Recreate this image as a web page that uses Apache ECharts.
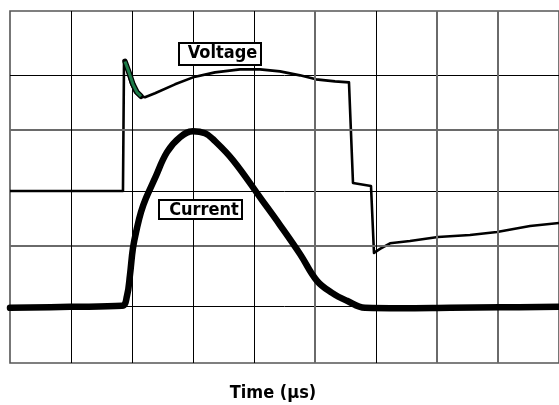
<!DOCTYPE html>
<html><head><meta charset="utf-8">
<script src="https://cdn.jsdelivr.net/npm/echarts@6/dist/echarts.min.js"></script>
<style>html,body{margin:0;padding:0;background:#fff}#c{width:559px;height:405px}</style>
</head><body><div id="c"></div>
<script>
// Time in grid divisions, amplitude in grid divisions
var currentT = [0, 0.984, 1.836, 1.918, 1.967, 2.016, 2.082, 2.148, 2.230, 2.377, 2.574, 2.787, 3.0, 3.197, 3.328, 3.656, 4.131, 4.426, 4.754, 5.033, 5.279, 5.525, 5.820, 6.393, 7.213, 8.033, 9.0];
var currentV = [0.94, 0.957, 0.974, 1.145, 1.502, 1.961, 2.301, 2.573, 2.811, 3.151, 3.594, 3.849, 3.951, 3.917, 3.815, 3.457, 2.777, 2.352, 1.859, 1.400, 1.196, 1.060, 0.940, 0.932, 0.940, 0.949, 0.957];
var voltageT = [0, 1.852, 1.869, 1.918, 1.984, 2.049, 2.131, 2.213, 2.377, 2.705, 3.0, 3.361, 3.770, 4.098, 4.426, 4.754, 5.016, 5.328, 5.557, 5.623, 5.918, 5.967, 6.066, 6.230, 6.557, 7.016, 7.541, 7.984, 8.525, 9.0];
var voltageV = [2.932, 2.932, 5.126, 4.988, 4.767, 4.614, 4.546, 4.529, 4.597, 4.750, 4.869, 4.954, 5.005, 5.005, 4.971, 4.903, 4.835, 4.801, 4.784, 3.067, 3.016, 1.876, 1.944, 2.040, 2.080, 2.148, 2.182, 2.233, 2.335, 2.386];
var spikeT = [1.885, 1.951, 2.016, 2.082, 2.148];
var spikeV = [5.141, 4.954, 4.750, 4.614, 4.546];
var hGridLevels = [0.957, 1.995, 2.932, 3.985, 4.903];
var hGridGray = [false, true, false, true, false];
var vGridLevels = [1, 2, 3, 4, 5, 6, 7, 8];
var vGridGray = [false, false, false, false, true, false, true, true];
var xTitle = 'Time (µs)';

function pairs(a, b) { return a.map(function (v, i) { return [v, b[i]]; }); }
var gray = {color: '#6a6a6a', width: 2, type: 'solid'};
var black = {color: '#000', width: 1, type: 'solid'};
var gridLines = [];
hGridLevels.forEach(function (v, i) { gridLines.push({yAxis: v, lineStyle: hGridGray[i] ? gray : black}); });
vGridLevels.forEach(function (v, i) { gridLines.push({xAxis: v, lineStyle: vGridGray[i] ? gray : black}); });
var FONT = 'bold 18px "DejaVu Sans Condensed", "DejaVu Sans", sans-serif';

var chart = echarts.init(document.getElementById('c'));
chart.setOption({
  animation: false,
  grid: {left: 10, right: -2, top: 11, bottom: 42, show: true, borderColor: '#555', borderWidth: 1.6, backgroundColor: '#fff'},
  xAxis: {type: 'value', min: 0, max: 9, interval: 1, axisLine: {show: false}, axisTick: {show: false}, axisLabel: {show: false}, splitLine: {show: false}},
  yAxis: {type: 'value', min: 0, max: 6, interval: 1, axisLine: {show: false}, axisTick: {show: false}, axisLabel: {show: false}, splitLine: {show: false}},
  series: [
    {type: 'line', data: [], markLine: {silent: true, symbol: ['none', 'none'], label: {show: false}, animation: false, data: gridLines}},
    {type: 'line', data: pairs(voltageT, voltageV), symbol: 'none', lineStyle: {color: '#000', width: 2.6, join: 'round'}, z: 3},
    {type: 'line', data: pairs(spikeT, spikeV), symbol: 'none', lineStyle: {color: '#000', width: 5.5, cap: 'round'}, z: 4},
    {type: 'line', data: pairs(spikeT, spikeV), symbol: 'none', lineStyle: {color: '#1c7a48', width: 3}, z: 5},
    {type: 'line', data: pairs(currentT, currentV), symbol: 'none', smooth: 0.4, lineStyle: {color: '#000', width: 6.5, cap: 'round', join: 'round'}, z: 6}
  ],
  graphic: [
    {type: 'rect', z: 100, shape: {x: 179, y: 43, width: 82, height: 22}, style: {fill: '#fff', stroke: '#000', lineWidth: 2}},
    {type: 'text', z: 101, x: 222.5, y: 53.5, style: {text: 'Voltage', fill: '#000', align: 'center', verticalAlign: 'middle', font: FONT}},
    {type: 'rect', z: 100, shape: {x: 159, y: 200, width: 83, height: 19}, style: {fill: '#fff', stroke: '#000', lineWidth: 2}},
    {type: 'text', z: 101, x: 204, y: 210, style: {text: 'Current', fill: '#000', align: 'center', verticalAlign: 'middle', font: FONT}},
    {type: 'text', z: 101, x: 273, y: 393, style: {text: xTitle, fill: '#000', align: 'center', verticalAlign: 'middle', font: FONT}}
  ]
});
</script></body></html>
